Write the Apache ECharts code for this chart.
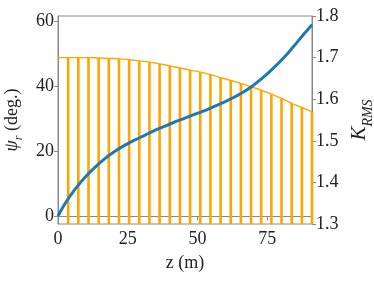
<!DOCTYPE html>
<html><head><meta charset="utf-8">
<script src="https://cdn.jsdelivr.net/npm/echarts@6/dist/echarts.min.js"></script>
<style>html,body{margin:0;padding:0;background:#fff}#c{width:374px;height:281px}</style>
</head><body><div id="c"></div>
<script>
// blue curve: psi_r (deg.) vs z (m)
const zPsi = [0, 2.6, 6.2, 9.7, 13.3, 16.9, 20.4, 24, 27.6, 31.2, 34.1, 37.6, 41.2, 44.8, 48.4, 52, 55.6, 59.1, 62.7, 66.3, 69.9, 73.5, 77.1, 80.7, 84.3, 87.9, 91];
const psi = [0, 4.0, 8.4, 12.0, 15.1, 17.8, 20.0, 21.9, 23.5, 25.0, 26.2, 27.5, 28.8, 30.0, 31.2, 32.4, 33.7, 35.0, 36.5, 38.2, 40.3, 42.8, 45.6, 48.7, 52.2, 55.9, 59.0];
// orange stems: K_RMS vs z (m)
const zK = [0, 3.64, 7.28, 10.92, 14.56, 18.2, 21.84, 25.48, 29.12, 32.76, 36.4, 40.04, 43.68, 47.32, 50.96, 54.6, 58.24, 61.88, 65.52, 69.16, 72.8, 76.44, 80.08, 83.72, 87.36, 91];
const kRms = [1.700, 1.700, 1.700, 1.700, 1.699, 1.698, 1.697, 1.695, 1.692, 1.689, 1.685, 1.680, 1.675, 1.670, 1.665, 1.659, 1.652, 1.645, 1.638, 1.630, 1.622, 1.612, 1.602, 1.590, 1.580, 1.570];
const psiTicks = [0, 20, 40, 60];
const zTicks = [0, 25, 50, 75];

const FONT = 'Liberation Serif';
const GRAY = '#888';
const chart = echarts.init(document.getElementById('c'), null, {renderer: 'canvas'});
const axisCommon = {
  axisLine: {show: true, lineStyle: {color: GRAY, width: 1}},
  axisTick: {show: true, inside: false, length: 4, lineStyle: {color: GRAY}},
  splitLine: {show: false},
  axisLabel: {color: '#222', fontFamily: FONT, fontSize: 18, margin: 4}
};
chart.setOption({
  animation: false,
  grid: {left: 58, right: 62, top: 16, bottom: 57, show: true, borderColor: GRAY, borderWidth: 1,
         containLabel: false, outerBoundsMode: 'none'},
  xAxis: {
    type: 'value', min: 0, max: 91,
    ...axisCommon,
    axisTick: {...axisCommon.axisTick, customValues: zTicks},
    axisLabel: {...axisCommon.axisLabel, margin: 6, customValues: zTicks},
    name: 'z (m)', nameLocation: 'middle', nameGap: 30,
    nameTextStyle: {fontFamily: FONT, fontSize: 18, color: '#222'}
  },
  yAxis: [{
    type: 'value', min: -2.4, max: 61.7, position: 'left',
    ...axisCommon,
    axisTick: {...axisCommon.axisTick, customValues: psiTicks},
    axisLabel: {...axisCommon.axisLabel, customValues: psiTicks},
    name: '{i|ψ}{s|r} (deg.)', nameLocation: 'middle', nameGap: 29, nameRotate: 90,
    nameTextStyle: {fontFamily: FONT, fontSize: 18, color: '#222',
      rich: {i: {fontFamily: FONT, fontStyle: 'italic', fontSize: 18, color: '#222'},
             s: {fontFamily: FONT, fontStyle: 'italic', fontSize: 12, color: '#222', verticalAlign: 'bottom', padding: [0,0,-4,0]}}}
  }, {
    type: 'value', min: 1.3, max: 1.8, interval: 0.1, position: 'right',
    ...axisCommon,
    axisLabel: {...axisCommon.axisLabel, formatter: v => v.toFixed(1)},
    name: '{i|K}{s|RMS}', nameLocation: 'middle', nameGap: 29, nameRotate: 90,
    nameTextStyle: {fontFamily: FONT, fontSize: 20, color: '#222',
      rich: {i: {fontFamily: FONT, fontStyle: 'italic', fontSize: 21, color: '#222'},
             s: {fontFamily: FONT, fontStyle: 'italic', fontSize: 14, color: '#222', verticalAlign: 'bottom', padding: [0,0,-5,0]}}}
  }],
  series: [{
    type: 'bar', yAxisIndex: 1, barWidth: 2.6,
    data: zK.slice(1).map((z, i) => [z, kRms[i + 1]]),
    itemStyle: {color: '#FFA500'}, z: 2
  }, {
    type: 'line', yAxisIndex: 1, smooth: true, symbol: 'none',
    data: zK.map((z, i) => [z, kRms[i]]),
    lineStyle: {color: '#FFA500', width: 1.4}, z: 3
  }, {
    type: 'line', yAxisIndex: 0, smooth: 0.5, symbol: 'none',
    data: zPsi.map((z, i) => [z, psi[i]]),
    lineStyle: {color: '#1f77b4', width: 3}, z: 4
  }]
});
</script></body></html>
